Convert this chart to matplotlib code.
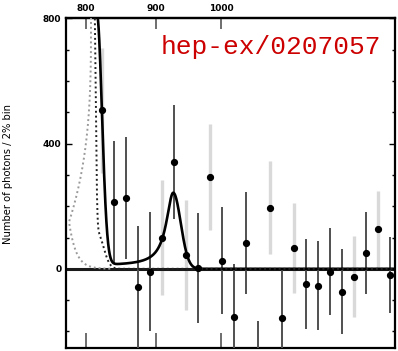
import numpy as np
import matplotlib
matplotlib.use('Agg')
import matplotlib.pyplot as plt
from matplotlib.ticker import MultipleLocator, FixedLocator, NullFormatter

# photon counts per 2% bin (x = bin number, 0 = first bin on the plot)
bins = np.arange(25)
counts = [506, 215, 227, -58, -9, 99, 342, 45, 3, 294, 26, -154, 83, -328,
          195, -157, 66, -49, -54, -9, -73, -25, 50, 127, -19]
errors = [200, 195, 195, 195, 190, 184, 182, 176, 175, 170, 170, 170, 162, 162,
          149, 154, 143, 144, 142, 138, 136, 130, 130, 123, 122]
light_bins = [0, 5, 7, 9, 14, 16, 21, 23]

# top axis labels (mass scale) and where they sit in bin units
mass_labels = ['800', '900', '1000']
mass_pos = [-1.305, 4.514, 9.917]

# fit curves
bg_start, bg_a, bg_b = -0.391, 0.047, 2.846
plateau, plateau_end = 10, 6.4
peak_pos, peak_width, peak_sigma_r, peak_height = 5.95, 0.702, 0.62, 235
dot_start, dot_b, dot_tail, dot_tail_w2 = -0.640, 31.8, 118, 0.555
nose_x, nose_v, up_span, lo_len = -2.718, 150, 1.829, 0.582

fig = plt.figure(figsize=(3.98, 3.51), dpi=100)
ax = fig.add_axes([0.1646, 0.0086, 0.828, 0.9387])

bins_arr = np.array(bins)
cnt = np.array(counts)
err = np.array(errors)
is_light = np.isin(bins_arr, light_bins)

ax.errorbar(bins_arr[is_light], cnt[is_light], yerr=err[is_light], fmt='none',
            ecolor='#d9d9d9', elinewidth=2.4, capsize=0, zorder=1)
ax.errorbar(bins_arr[~is_light], cnt[~is_light], yerr=err[~is_light], fmt='none',
            ecolor='#505050', elinewidth=1.4, capsize=0, zorder=3)

ax.axhline(0, color='#1a1a1a', lw=2.2, zorder=2)

xf = np.linspace(-3.1, 24.5, 3000)
t = xf - bg_start
dx = xf - peak_pos
peak = np.where(dx < 0,
                peak_height / (1 + (dx / peak_width) ** 2),
                peak_height * np.exp(-dx ** 2 / (2 * peak_sigma_r ** 2)))
solid = 800 * np.exp(np.minimum(-bg_a * t - bg_b * t * np.abs(t), 10)) \
    + plateau / (1 + np.exp((xf - plateau_end) / 0.3)) + peak
ax.plot(xf, solid, color='black', lw=1.9, zorder=4)

t2 = xf - dot_start
dotted = 800 * np.exp(np.minimum(-dot_b * t2 * np.abs(t2), 10)) \
    + dot_tail * np.exp(-(xf - bg_start) ** 2 / dot_tail_w2)
ax.plot(xf, dotted, color='#222222', lw=1.4, ls=(0, (1, 1.5)), zorder=4)

v_up = np.linspace(820, nose_v, 200)
x_up = nose_x + up_span * (1 - ((800 - v_up) / 650) ** 3)
v_lo = np.geomspace(nose_v, 0.3, 200)
x_lo = nose_x + lo_len * np.log(nose_v / v_lo)
ax.plot(np.r_[x_up, x_lo], np.r_[v_up, v_lo], color='#9a9a9a', lw=1.4,
        ls=(0, (1, 1.5)), zorder=4)

ax.plot(bins_arr, cnt, 'o', color='black', ms=4.2, zorder=5)

ax.set_xlim(-3.01, 24.38)
ax.set_ylim(-253, 800)

for s in ax.spines.values():
    s.set_linewidth(1.6)

ax.xaxis.set_major_locator(FixedLocator(mass_pos))
ax.xaxis.set_major_formatter(NullFormatter())
ax.tick_params(axis='x', which='major', direction='in', length=10.5, width=1.2,
               bottom=True, top=False, color='#555555')

top = ax.secondary_xaxis('top')
top.xaxis.set_major_locator(FixedLocator(mass_pos))
top.set_xticklabels(mass_labels)
top.tick_params(axis='x', direction='in', length=8, width=1.2, pad=4,
                labelsize=6.5, color='#555555')
for lab in top.get_xticklabels():
    lab.set_fontweight('bold')
top.spines['top'].set_linewidth(1.6)

ax.yaxis.set_major_locator(FixedLocator([0, 400, 800]))
ax.yaxis.set_minor_locator(MultipleLocator(100))
ax.tick_params(axis='y', which='major', direction='in', length=4.5, width=1,
               left=True, right=True, labelsize=6.5, pad=3)
ax.tick_params(axis='y', which='minor', direction='in', length=2.5, width=1,
               left=True, right=True)
for lab in ax.get_yticklabels():
    lab.set_fontweight('bold')

fig.text(8 / 398, 0.503, 'Number of photons / 2% bin', rotation=90,
         ha='center', va='center', fontsize=7.2)

fig.text(161 / 398, 1 - 54 / 351, 'hep-ex/0207057', family='Liberation Mono',
         fontsize=18.9, color='#cc0000', va='baseline')

fig.savefig('out.png', dpi=100)
